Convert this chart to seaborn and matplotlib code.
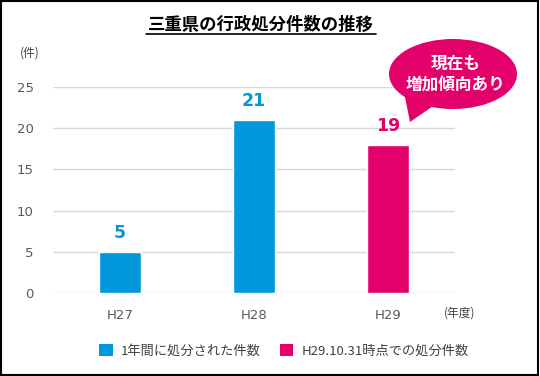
import matplotlib
matplotlib.use("Agg")
import matplotlib.pyplot as plt
import seaborn as sns
import pandas as pd
from matplotlib.patches import Ellipse, Polygon, Patch, Rectangle

years = ["H27", "H28", "H29"]
counts = [5, 21, 18]
count_labels = ["5", "21", "19"]
series = ["1年間に処分された件数", "1年間に処分された件数", "H29.10.31時点での処分件数"]
series_names = ["1年間に処分された件数", "H29.10.31時点での処分件数"]
y_ticks = [0, 5, 10, 15, 20, 25]

BLUE = "#0097DD"
PINK = "#E3006B"
W, H = 540, 376


def px(x, y):
    # pixel position (from top-left) -> figure fraction
    return x / W, 1 - y / H


def main():
    sns.set_style("white")
    plt.rcParams["font.family"] = ["Noto Sans CJK JP", "DejaVu Sans"]

    df = pd.DataFrame({"year": years, "count": counts, "series": series})

    fig = plt.figure(figsize=(5.4, 3.76), dpi=100)
    ax = fig.add_axes([53 / W, 1 - 293.3 / H, 402 / W, 206.6 / H])

    sns.barplot(data=df, x="year", y="count", hue="series",
                palette={series_names[0]: BLUE, series_names[1]: PINK},
                saturation=1, dodge=False, width=0.31, legend=False, ax=ax, zorder=3)

    ax.set_ylim(0, 25)
    ax.set_xlim(-0.5, 2.5)
    ax.set_yticks(y_ticks)
    ax.grid(axis="y", color="#D9D9D9", linewidth=1.0, zorder=0)
    ax.set_axisbelow(True)
    for s in ax.spines.values():
        s.set_visible(False)
    ax.tick_params(axis="both", length=0, labelsize=9.5, labelcolor="#595959")
    ax.tick_params(axis="y", pad=14)
    ax.tick_params(axis="x", pad=11)
    for t in ax.get_xticklabels() + ax.get_yticklabels():
        t.set_fontfamily("DejaVu Sans")
    ax.set_xlabel("")
    ax.set_ylabel("")

    colors = [BLUE, BLUE, PINK]
    for i, (v, lab) in enumerate(zip(counts, count_labels)):
        ax.annotate(lab, (i, v), xytext=(0, 7), textcoords="offset points",
                    ha="center", va="bottom", fontsize=12.5, fontweight="bold",
                    color=colors[i], fontfamily="DejaVu Sans")

    # unit labels
    fig.text(*px(30, 53), "(件)", ha="center", va="center", fontsize=8.5, color="#404040")
    fig.text(*px(460, 313), "(年度)", ha="center", va="center", fontsize=8.5, color="#404040")

    # title
    fig.text(*px(261, 25), "三重県の行政処分件数の推移", ha="center", va="center",
             fontsize=12.5, fontweight="bold", color="#000000")
    fig.add_artist(plt.Line2D([146 / W, 376 / W], [1 - 34 / H, 1 - 34 / H],
                              color="black", linewidth=1.2, transform=fig.transFigure))

    # speech bubble
    bub = Ellipse(px(453, 74), 128 / W, 70 / H, transform=fig.transFigure,
                  facecolor=PINK, edgecolor="none", zorder=5)
    fig.add_artist(bub)
    tail = Polygon([px(404, 92), px(436, 104), px(410, 122)], closed=True,
                   transform=fig.transFigure, facecolor=PINK, edgecolor="none", zorder=5)
    fig.add_artist(tail)
    fig.text(*px(456, 64), "現在も", ha="center", va="center", fontsize=12,
             fontweight="bold", color="white", zorder=6)
    fig.text(*px(456, 85), "増加傾向あり", ha="center", va="center", fontsize=12,
             fontweight="bold", color="white", zorder=6)

    # legend
    handles = [Patch(facecolor=BLUE, edgecolor="none"), Patch(facecolor=PINK, edgecolor="none")]
    fig.legend(handles, series_names, loc="center", bbox_to_anchor=px(284, 351), ncol=2,
               frameon=False, fontsize=9.5, handlelength=1.05, handleheight=1.05,
               handletextpad=0.6, columnspacing=1.4, labelcolor="#404040")

    # outer border
    fig.add_artist(Rectangle((0.002, 0.003), 0.995, 0.994, transform=fig.transFigure,
                             fill=False, edgecolor="black", linewidth=1.5))

    fig.savefig("out.png", dpi=100)


if __name__ == "__main__":
    main()
